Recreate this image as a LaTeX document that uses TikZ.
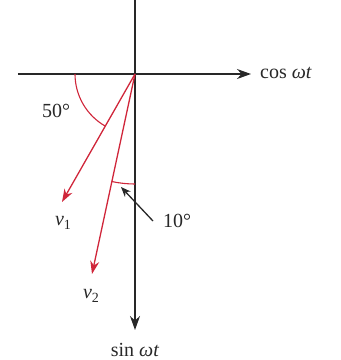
\documentclass[tikz,border=0pt]{standalone}
\usepackage{fontspec}
\setmainfont{Liberation Serif}
\usetikzlibrary{arrows.meta}
\definecolor{vred}{RGB}{208,38,58}
\definecolor{axgray}{RGB}{40,40,40}
\newcommand{\vsub}[1]{\textit{v}\raisebox{-4pt}{\fontsize{14}{16}\selectfont #1}}
\begin{document}
\begin{tikzpicture}[x=1pt,y=-1pt,
  axis/.style={draw=axgray,line width=1.6pt},
  vec/.style={draw=vred,line width=1.3pt,-{Stealth[length=13pt,width=9pt]}},
  marc/.style={draw=vred,line width=1.1pt},
  lbl/.style={text=axgray,font=\fontsize{20}{24}\selectfont,inner sep=0pt}]
\useasboundingbox (0,0) rectangle (341,360);
\coordinate (O) at (135,74);
\coordinate (L) at (18,74);
\coordinate (R) at (251,74);
\coordinate (T) at (135,0);
\coordinate (B) at (135,330);
\coordinate (V1) at (62,202);
\coordinate (V2) at (92,274);
\coordinate (P1) at (153,221);
\coordinate (P2) at (121,187);
\draw[axis] (L) -- (O);
\draw[axis,-{Stealth[length=14pt,width=10pt]}] (O) -- (R);
\draw[axis] (T) -- (O);
\draw[axis,-{Stealth[length=14pt,width=10pt]}] (O) -- (B);
\draw[marc] (O) ++(180:60) arc[start angle=180,end angle=119.7,radius=60];
\draw[marc] (O) ++(90:110) arc[start angle=90,end angle=102.2,radius=110];
\draw[vec] (O) -- (V1);
\draw[vec] (O) -- (V2);
\draw[draw=axgray,line width=1.3pt,-{Stealth[length=10pt,width=8pt]}] (P1) -- (P2);
\node[lbl] (a50) at (56,111) {50°};
\node[lbl] (a10) at (177,221) {10°};
\node[lbl] (lv1) at (63,223) {\vsub{1}};
\node[lbl] (lv2) at (91,296) {\vsub{2}};
\node[lbl,anchor=west] (lcos) at (260,73) {cos \textit{ωt}};
\node[lbl] (lsin) at (135,350) {sin \textit{ωt}};
\end{tikzpicture}
\end{document}
